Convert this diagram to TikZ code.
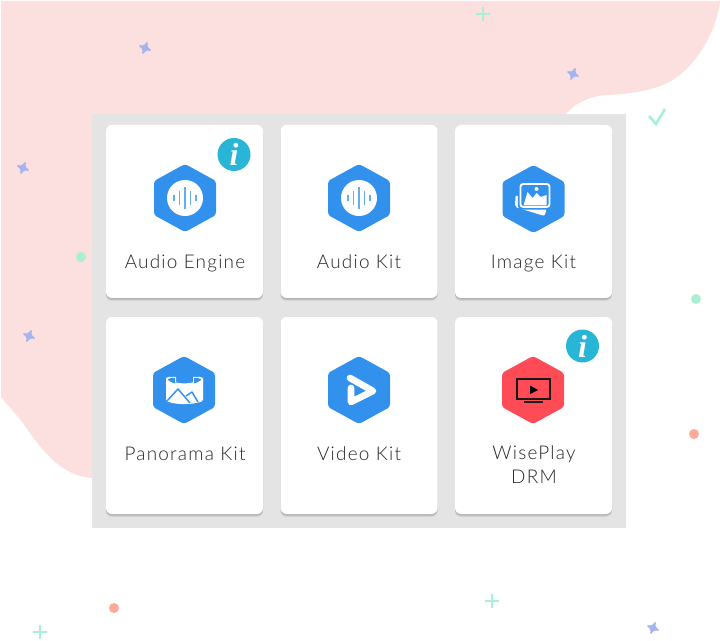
\documentclass[tikz,border=0pt]{standalone}
\usepackage{fontspec}
\setmainfont{Lato Light}[LetterSpace=6.5]
\newfontfamily\badgefont{Liberation Serif}
\usepackage{tikz}
\usetikzlibrary{shadows}
\definecolor{blobpink}{HTML}{FBE0DF}
\definecolor{panelgrey}{HTML}{E4E4E4}
\definecolor{hexblue}{HTML}{3391EE}
\definecolor{hexred}{HTML}{FF4B55}
\definecolor{badgeteal}{HTML}{29B6D6}
\definecolor{plusgreen}{HTML}{A9EFD3}
\definecolor{starblue}{HTML}{A5B4EE}
\definecolor{dotsalmon}{HTML}{FFA999}
\tikzset{
  card/.style={fill=white,rounded corners=4.5pt,minimum width=117.75pt,inner sep=0pt,
    general shadow={shadow xshift=0pt,shadow yshift=-2.2pt,fill=black,opacity=0.07},
    general shadow={shadow xshift=0pt,shadow yshift=-1.5pt,fill=black,opacity=0.08},
    general shadow={shadow xshift=0pt,shadow yshift=-0.8pt,fill=black,opacity=0.08}},
  cardlabel/.style={inner sep=0pt,anchor=base,align=center,text=black!85,font=\fontsize{14.2pt}{18pt}\selectfont},
  badge/.style={circle,fill=badgeteal,minimum size=24.75pt,inner sep=0pt,text=white,
    font=\badgefont\fontsize{24pt}{24pt}\selectfont\bfseries\itshape},
  plusmark/.style={draw=plusgreen,line width=1.5pt},
  hexfill/.style={fill=#1,rounded corners=2.2pt},
}
% hexagon behind every icon
\newcommand{\hexback}[2]{\fill[hexfill=#2,shift={(#1)}] (0,-34) -- (31,-17) -- (31,17) -- (0,34) -- (-31,17) -- (-31,-17) -- cycle;}
\newcommand{\plusat}[1]{\draw[plusmark,shift={(#1)}] (-7,0) -- (7,0) (0,-7) -- (0,7);}
\newcommand{\starat}[1]{\filldraw[fill=starblue,draw=starblue,line width=1.1pt,line join=round,shift={(#1)},rotate=22] (0,-5.5) .. controls (1.3,-1.3) .. (5.5,0) .. controls (1.3,1.3) .. (0,5.5) .. controls (-1.3,1.3) .. (-5.5,0) .. controls (-1.3,-1.3) .. (0,-5.5) -- cycle;}
% sound wave in a white disc
\newcommand{\waveicon}[1]{
  \fill[white,shift={(#1)}] (0,0) circle (18);
  \draw[hexblue!75,line width=0.9pt,shift={(#1)}] (-11,-3.3) -- (-11,3.3) (-5.5,-6.7) -- (-5.5,6.7) (0,-10.7) -- (0,10.7) (5.5,-6.7) -- (5.5,6.7) (11,-3.3) -- (11,3.3);
}

\begin{document}
\begin{tikzpicture}[x=0.75pt,y=0.75pt,yscale=-1,xscale=1]
    \useasboundingbox (0,0) rectangle (720,641);

    %Shape: background blob
    \fill[blobpink] (1,1) -- (720,1) .. controls (717,30) and (698,62) .. (677,77) .. controls (660,90) and (632,94) .. (607,95) .. controls (590,96) and (575,103) .. (566,114) -- (92,114) -- (92,478) .. controls (62,476) and (43,452) .. (25,426) .. controls (18,416) and (10,408) .. (1,397) -- cycle;

    %Shape: plus marks
    \foreach \pt in {{483,14},{492,601},{40,632}} {\plusat{\pt}}
    %Shape: stars
    \foreach \pt in {{145,48},{573,74},{23,168},{29,336},{653,628}} {\starat{\pt}}
    %Shape: dots
    \foreach \pt in {{81,257},{696,299}} {\fill[plusgreen] (\pt) circle (5);}
    \foreach \pt in {{694,434},{114,608}} {\fill[dotsalmon] (\pt) circle (5);}
    %Shape: tick
    \draw[plusgreen,line width=2pt] (649,116) -- (656,124) -- (665,109);

    %Shape: panel
    \fill[panelgrey] (92,114) rectangle (626,528);

    %Shape: cards
    \node (audioenginecard) [card,minimum height=129.75pt] at (184.5,211.5) {};
    \node (audiokitcard) [card,minimum height=129.75pt] at (359,211.5) {};
    \node (imagekitcard) [card,minimum height=129.75pt] at (533.5,211.5) {};
    \node (panoramacard) [card,minimum height=147.75pt] at (184.5,415.5) {};
    \node (videokitcard) [card,minimum height=147.75pt] at (359,415.5) {};
    \node (wiseplaycard) [card,minimum height=147.75pt] at (533.5,415.5) {};

    %Shape: audio icons
    \hexback{185,198}{hexblue}
    \waveicon{185,198}
    \hexback{359,198}{hexblue}
    \waveicon{359,198}

    %Shape: image icon
    \hexback{533.5,199}{hexblue}
    \begin{scope}[shift={(533.5,199)}]
      \fill[white,rounded corners=1.5pt] (-18,-4) -- (-18.5,8) -- (11,17) -- (13.5,9) -- cycle;
      \filldraw[fill=hexblue,draw=hexblue,line width=1.6pt,rounded corners=2pt] (-14.5,-16.5) rectangle (17.5,9.5);
      \filldraw[fill=hexblue,draw=white,line width=1.4pt,rounded corners=2pt] (-13,-15) rectangle (16,8);
      \fill[white] (-10,6.5) -- (-6,-7) -- (-1,-1) -- (3,-6) -- (7,-2) -- (13,-4) -- (13,6.5) -- cycle;
      \fill[white] (3,-10) circle (2);
    \end{scope}

    %Shape: panorama icon
    \hexback{184,390}{hexblue}
    \begin{scope}[shift={(184,390)}]
      \fill[white,rounded corners=1pt] (-18,-12) .. controls (-8,-5) and (8,-5) .. (19,-12) -- (19,11) .. controls (8,15) and (-8,15) .. (-18,11) -- cycle;
      \fill[white] (-18,-12) .. controls (-14,-14) and (-10,-13) .. (-8,-13) -- (-8,-8) -- (-18,-8) -- cycle;
      \fill[white] (19,-12) .. controls (15,-14) and (11,-13) .. (9,-13) -- (9,-8) -- (19,-8) -- cycle;
      \fill[hexblue] (-16,-11) .. controls (-13,-12.5) and (-11,-12) .. (-9,-12) -- (-9,-6.5) .. controls (-11,-7) and (-14,-8) .. (-16,-10) -- cycle;
      \fill[hexblue] (17,-11) .. controls (14,-12.5) and (12,-12) .. (10,-12) -- (10,-6.5) .. controls (12,-7) and (15,-8) .. (17,-10) -- cycle;
      \draw[hexblue,line width=1.1pt,line join=round] (-17,11) -- (-6,-1) -- (6,13);
      \draw[hexblue,line width=1.1pt,line join=round] (2,6) -- (8,2) -- (14,12);
    \end{scope}

    %Shape: video icon
    \hexback{359,390}{hexblue}
    \draw[white,line width=5pt,line cap=round,line join=round] (350,378) -- (373,391) -- (351,402) -- (351,388);

    %Shape: drm icon
    \hexback{533,390}{hexred}
    \begin{scope}[shift={(533,390)}]
      \draw[black!90,line width=1.1pt] (-16,-11) rectangle (17,9);
      \fill[black] (-3,-4.5) -- (-3,4) -- (5,0) -- cycle;
      \draw[black!90,line width=1pt] (-9,12) -- (10,12);
    \end{scope}

    %Text Node
    \node (audioenginelabel) [cardlabel] at (185,269) {Audio Engine};
    \node (audiokitlabel) [cardlabel] at (359,269) {Audio Kit};
    \node (imagekitlabel) [cardlabel] at (533.5,269) {Image Kit};
    \node (panoramalabel) [cardlabel] at (185,460.5) {Panorama Kit};
    \node (videokitlabel) [cardlabel] at (359,460.5) {Video Kit};
    \node (wiseplaylabel) [cardlabel] at (534,483.5) {WisePlay\\DRM};

    %Shape: info badges
    \node (audioenginebadge) [badge] at (234,154.5) {i};
    \node (wiseplaybadge) [badge] at (582.5,346) {i};
\end{tikzpicture}
\end{document}
